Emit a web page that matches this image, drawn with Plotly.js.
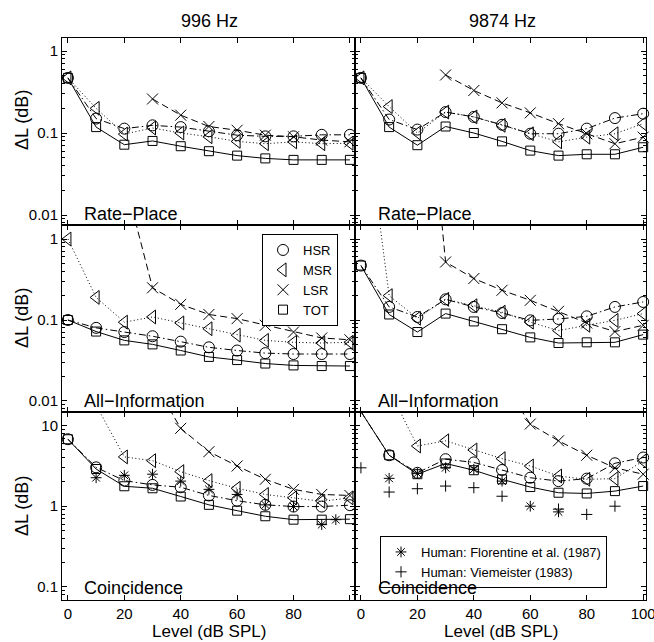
<!DOCTYPE html>
<html><head><meta charset="utf-8">
<script src="https://cdn.plot.ly/plotly-3.0.1.min.js"></script>
<style>html,body{margin:0;padding:0;background:#fff}#chart{width:654px;height:642px}</style>
</head><body><div id="chart"></div>
<script>
// Sound level (dB SPL)
const levels = [0,10,20,30,40,50,60,70,80,90,100];

// Rate-Place, 996 Hz
const rp996_HSR = [0.47,0.15,0.113,0.124,0.118,0.105,0.094,0.091,0.091,0.095,0.095];
const rp996_MSR = [0.47,0.20,0.097,0.115,0.10,0.09,0.079,0.074,0.078,0.074,0.075];
const rp996_LSR = [null,null,null,0.26,0.165,0.12,0.108,0.094,0.09,0.082,0.078];
const rp996_TOT = [0.47,0.118,0.072,0.08,0.069,0.06,0.053,0.049,0.047,0.047,0.047];
// Rate-Place, 9874 Hz
const rp9874_HSR = [0.47,0.146,0.11,0.18,0.157,0.126,0.098,0.098,0.113,0.152,0.172];
const rp9874_MSR = [0.47,0.21,0.10,0.18,0.157,0.124,0.098,0.078,0.089,0.098,0.13];
const rp9874_LSR = [null,null,null,0.51,0.33,0.233,0.176,0.13,0.098,0.074,0.089];
const rp9874_TOT = [0.47,0.118,0.071,0.12,0.10,0.079,0.061,0.053,0.055,0.055,0.067];
// All-Information, 996 Hz
const ai996_HSR = [0.1,0.08,0.071,0.063,0.054,0.046,0.042,0.039,0.038,0.038,0.038];
const ai996_MSR = [1.0,0.19,0.094,0.109,0.092,0.078,0.065,0.056,0.053,0.052,0.053];
const ai996_LSR = [null,null,5.6,0.25,0.156,0.117,0.104,0.086,0.071,0.06,0.057];
const ai996_TOT = [0.1,0.072,0.056,0.05,0.042,0.035,0.032,0.029,0.0275,0.027,0.027];
// All-Information, 9874 Hz
const ai9874_HSR = [0.47,0.145,0.109,0.18,0.145,0.122,0.099,0.103,0.111,0.145,0.167];
const ai9874_MSR = [95,0.2,0.105,0.18,0.15,0.125,0.094,0.074,0.086,0.099,0.12];
const ai9874_LSR = [null,null,2000,0.52,0.325,0.233,0.175,0.128,0.092,0.072,0.086];
const ai9874_TOT = [0.47,0.117,0.071,0.12,0.096,0.077,0.061,0.052,0.053,0.053,0.066];
// Coincidence, 996 Hz
const co996_HSR = [6.8,3.04,2.08,1.84,1.72,1.36,1.17,1.04,0.99,0.99,1.03];
const co996_MSR = [null,18,4.1,3.68,2.69,2.08,1.67,1.4,1.27,1.15,1.27];
const co996_LSR = [null,null,null,37,9.3,4.76,3.16,2.16,1.62,1.4,1.36];
const co996_TOT = [6.8,2.9,1.77,1.67,1.32,1.04,0.88,0.75,0.68,0.68,0.69];
// Coincidence, 9874 Hz
const co9874_HSR = [15,4.3,2.6,3.84,3.5,2.82,2.26,2.05,2.2,3.42,4.03];
const co9874_MSR = [null,28,5.6,6.5,5.0,3.9,3.16,2.37,2.16,2.2,3.65];
const co9874_LSR = [null,null,null,null,null,36,10.5,6.5,4.3,3.0,2.5];
const co9874_TOT = [15,4.3,2.5,3.4,2.8,2.16,1.73,1.47,1.44,1.54,1.78];

// Human data
const flor996_levels = [10,20,30,40,50,60,70,80,90,95];
const flor996_values = [2.26,2.42,2.5,2.05,1.62,1.4,1.04,0.99,0.59,0.68];
const flor9874_levels = [10,20,30,40,50,60,70];
const flor9874_values = [2.22,2.56,3.0,2.88,2.05,1.0,0.85];
const viem9874_levels = [0,10,20,30,40,50,70,80,90];
const viem9874_values = [3.0,1.5,1.65,1.78,1.7,1.33,0.92,0.79,1.0];

const seriesNames = ['HSR','MSR','LSR','TOT'];
const panelLabels = ['Rate\u2212Place','Rate\u2212Place','All\u2212Information','All\u2212Information','Coincidence','Coincidence'];
const columnTitles = ['996 Hz','9874 Hz'];

const panels = [
  {x:'x',  y:'y',  d:[rp996_HSR, rp996_MSR, rp996_LSR, rp996_TOT]},
  {x:'x2', y:'y2', d:[rp9874_HSR, rp9874_MSR, rp9874_LSR, rp9874_TOT]},
  {x:'x3', y:'y3', d:[ai996_HSR, ai996_MSR, ai996_LSR, ai996_TOT], legend:true},
  {x:'x4', y:'y4', d:[ai9874_HSR, ai9874_MSR, ai9874_LSR, ai9874_TOT]},
  {x:'x5', y:'y5', d:[co996_HSR, co996_MSR, co996_LSR, co996_TOT]},
  {x:'x6', y:'y6', d:[co9874_HSR, co9874_MSR, co9874_LSR, co9874_TOT]}
];

const style = {
  HSR:{symbol:'circle-open', size:11, dash:'7px,3px,1.5px,3px'},
  MSR:{symbol:'triangle-left-open', size:12, dash:'1px,2.5px'},
  LSR:{symbol:'x-thin-open', size:11, dash:'7px,4px'},
  TOT:{symbol:'square-open', size:9, dash:'solid'}
};

const traces = [];
panels.forEach(p => {
  p.d.forEach((vals, i) => {
    const s = style[seriesNames[i]];
    traces.push({type:'scatter', mode:'lines', x:levels, y:vals, xaxis:p.x, yaxis:p.y,
      line:{color:'black', width:1, dash:s.dash}, showlegend:false, hoverinfo:'skip'});
  });
  p.d.forEach((vals, i) => {
    const s = style[seriesNames[i]];
    traces.push({type:'scatter', mode:'markers', x:levels, y:vals, xaxis:p.x, yaxis:p.y,
      name:seriesNames[i], cliponaxis:false,
      marker:{symbol:s.symbol, size:s.size, color:'black', line:{width:1, color:'black'}},
      showlegend:!!p.legend, legend:'legend'});
  });
});
traces.push({type:'scatter', mode:'markers', x:flor996_levels, y:flor996_values, xaxis:'x5', yaxis:'y5',
  cliponaxis:false, showlegend:false, marker:{symbol:'asterisk-open', size:9, color:'black', line:{width:1,color:'black'}}});
traces.push({type:'scatter', mode:'markers', x:flor9874_levels, y:flor9874_values, xaxis:'x6', yaxis:'y6',
  name:'Human: Florentine et al. (1987)', legend:'legend2',
  cliponaxis:false, marker:{symbol:'asterisk-open', size:9, color:'black', line:{width:1,color:'black'}}});
traces.push({type:'scatter', mode:'markers', x:viem9874_levels, y:viem9874_values, xaxis:'x6', yaxis:'y6',
  name:'Human: Viemeister (1983)', legend:'legend2',
  cliponaxis:false, marker:{symbol:'cross-thin-open', size:8, color:'black', line:{width:1,color:'black'}}});

const W = 654, H = 642, L = 62, R = 8, T = 38, B = 42;
const pw = W - L - R, ph = H - T - B;
const xSplit = (355 - L) / pw;
const rowTop = [[(600-225)/ph, 1], [(600-412)/ph, (600-225)/ph], [0, (600-412)/ph]];
const yRanges = [[-2.122, 0.1585], [-2.136, 0.173], [-1.166, 1.171]];
const xRanges = [[-2.1, 101.8], [-2.1, 101]];
const font = {family:'Liberation Sans, Arial, Helvetica, sans-serif', color:'black'};

const layout = {
  width:W, height:H, margin:{l:L, r:R, t:T, b:B},
  paper_bgcolor:'white', plot_bgcolor:'white', showlegend:true,
  font:Object.assign({size:15}, font),
  annotations:[], 
  legend:{x:(262-L)/pw, y:(600-234)/ph, xanchor:'left', yanchor:'top', bgcolor:'white',
    bordercolor:'black', borderwidth:1, font:Object.assign({size:13}, font), tracegroupgap:0, itemwidth:30},
  legend2:{x:(380-L)/pw, y:(600-536)/ph, xanchor:'left', yanchor:'top', bgcolor:'white',
    bordercolor:'black', borderwidth:1, font:Object.assign({size:13}, font), tracegroupgap:0, itemwidth:30}
};

for (let k = 0; k < 6; k++) {
  const row = Math.floor(k/2), col = k % 2;
  const idx = k === 0 ? '' : String(k+1);
  const bottom = row === 2;
  layout['xaxis'+idx] = {
    domain: col === 0 ? [0, xSplit] : [xSplit, 1], anchor:'y'+idx, range:xRanges[col],
    tickmode:'array', tickvals:[0,20,40,60,80,100],
    ticktext: col === 0 ? ['0','20','40','60','80',''] : ['0','20','40','60','80','100'],
    showticklabels: bottom, ticks:'inside', ticklen:5, tickcolor:'black',
    ticklabeloverflow:'allow',
    showline:true, linecolor:'black', linewidth:1, mirror:'allticks',
    showgrid:false, zeroline:false, tickfont:Object.assign({size:15}, font)
  };
  layout['yaxis'+idx] = {
    domain: rowTop[row], anchor:'x'+idx, type:'log', range:yRanges[row],
    dtick:1, tick0:0, exponentformat:'none',
    showticklabels: col === 0, ticks:'inside', ticklen:5, tickcolor:'black',
    minor:{ticks:'inside', ticklen:3, dtick:'D1', tickcolor:'black', showgrid:false},
    showline:true, linecolor:'black', linewidth:1, mirror:'allticks',
    showgrid:false, zeroline:false, tickfont:Object.assign({size:15}, font)
  };
  layout.annotations.push({xref:'paper', yref:'paper',
    x: col === 0 ? (82-L)/pw : (376-L)/pw, y:(600 - [214,401,588][row])/ph,
    xanchor:'left', yanchor:'middle', showarrow:false, text:panelLabels[k],
    font:Object.assign({size:18}, font)});
}
columnTitles.forEach((t, c) => {
  layout.annotations.push({xref:'paper', yref:'paper', x:([209,502][c]-L)/pw, y:(600-21.5)/ph,
    xanchor:'center', yanchor:'middle', showarrow:false, text:t, font:Object.assign({size:18}, font)});
  layout.annotations.push({xref:'paper', yref:'paper', x:([209,501][c]-L)/pw, y:(600-631)/ph,
    xanchor:'center', yanchor:'middle', showarrow:false, text:'Level (dB SPL)', font:Object.assign({size:17}, font)});
});
[120, 318, 506].forEach(yc => {
  layout.annotations.push({xref:'paper', yref:'paper', x:(22-L)/pw, y:(600-yc)/ph,
    xanchor:'center', yanchor:'middle', showarrow:false, textangle:-90, text:'\u0394L (dB)',
    font:Object.assign({size:18}, font)});
});

Plotly.newPlot('chart', traces, layout, {displayModeBar:false, staticPlot:true});
</script></body></html>
